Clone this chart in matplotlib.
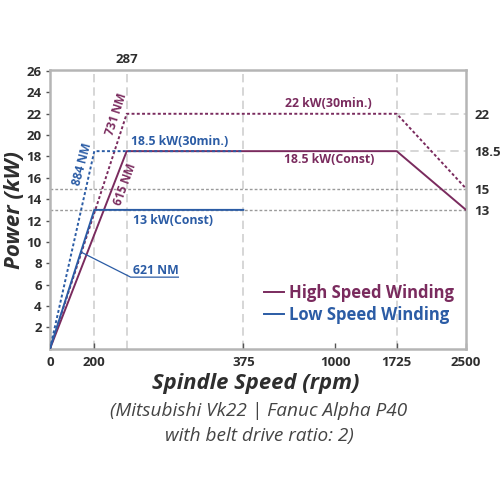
import numpy as np
import matplotlib
matplotlib.use("Agg")
import matplotlib.pyplot as plt

plt.rcParams['font.family'] = ['Open Sans', 'DejaVu Sans']

purple = "#7a2b5e"
blue = "#2b5ca5"
grey_txt = "#2e2e2e"

# spindle speed axis is piecewise (not linear)
speed_ticks = [0, 200, 287, 375, 1000, 1725, 2500]
tick_frac = [0.0, 0.1065, 0.1844, 0.4647, 0.6858, 0.8334, 1.0]

# high speed winding
high_const_x = [0, 287, 1725, 2500]
high_const_y = [0, 18.5, 18.5, 13]
high_30_x = [0, 287, 1725, 2500]
high_30_y = [0, 22, 22, 15]

# low speed winding
low_const_x = [0, 200, 375]
low_const_y = [0, 13, 13]
low_30_x = [0, 200, 375]
low_30_y = [0, 18.5, 18.5]

x_labels = [0, 200, 375, 1000, 1725, 2500]
right_ticks = [13, 15, 18.5, 22]
right_labels = ["13", "15", "18.5", "22"]


def fwd(x):
    return np.interp(x, speed_ticks, tick_frac)


def inv(y):
    return np.interp(y, tick_frac, speed_ticks)


fig = plt.figure(figsize=(5, 5), dpi=100)
ax = fig.add_axes([0.1, 0.3026, 0.832, 0.5574])
ax.set_xscale('function', functions=(fwd, inv))
ax.set_xlim(0, 2500)
ax.set_ylim(0, 26.1)

# reference lines
for v in [200, 287, 375, 1725]:
    ax.axvline(v, color="#d0d0d0", lw=1.2, ls=(0, (5, 3)), zorder=1)
for v in [13, 15]:
    ax.axhline(v, color="#9a9a9a", lw=1.0, ls=(0, (2, 1.5)), zorder=1)
for v in [18.5, 22]:
    ax.plot([1725, 2500], [v, v], color="#d0d0d0", lw=1.2, ls=(0, (5, 3)), zorder=1)

ax.plot(high_const_x, high_const_y, color=purple, lw=1.4, zorder=3, label="High Speed Winding")
ax.plot(high_30_x, high_30_y, color=purple, lw=1.4, ls=(0, (1.5, 1.2)), zorder=3)
ax.plot(low_const_x, low_const_y, color=blue, lw=1.4, zorder=4, label="Low Speed Winding")
ax.plot(low_30_x, low_30_y, color=blue, lw=1.4, ls=(0, (1.5, 1.2)), zorder=4)

# annotations
ax.text(258, 22.0, "731 NM", color=purple, fontsize=8.5, fontweight='bold',
        rotation=72, ha='center', va='center')
ax.text(146, 17.3, "884 NM", color=blue, fontsize=8.5, fontweight='bold',
        rotation=75, ha='center', va='center')
ax.text(284, 15.4, "615 NM", color=purple, fontsize=8.5, fontweight='bold',
        rotation=70, ha='center', va='center')
ax.text(290, 19.4, "18.5 kW(30min.)", color=blue, fontsize=8.8, fontweight='bold',
        ha='left', va='center')
ax.text(292, 12.0, "13 kW(Const)", color=blue, fontsize=8.8, fontweight='bold',
        ha='left', va='center')
ax.text(950, 23.0, "22 kW(30min.)", color=purple, fontsize=8.8, fontweight='bold',
        ha='center', va='center')
ax.text(960, 17.7, "18.5 kW(Const)", color=purple, fontsize=8.8, fontweight='bold',
        ha='center', va='center')
ax.text(292, 7.3, "621 NM", color=blue, fontsize=8.8, fontweight='bold',
        ha='left', va='center')
ax.plot([140, 290, 326], [9.05, 6.7, 6.7], color=blue, lw=0.9, zorder=4)

leg = ax.legend(loc='upper right', bbox_to_anchor=(1.008, 0.285), frameon=False,
                handlelength=1.2, handletextpad=0.3, labelspacing=0.2,
                prop={'weight': 'bold', 'size': 12})
for txt, col in zip(leg.get_texts(), [purple, blue]):
    txt.set_color(col)

# axes styling
for sp in ax.spines.values():
    sp.set_color("#b5b5b5")
    sp.set_linewidth(1.8)
ax.set_xticks(x_labels)
ax.set_xticklabels([str(v) for v in x_labels])
ax.xaxis.set_minor_locator(matplotlib.ticker.NullLocator())
ax.tick_params(axis='x', direction='in', length=4, width=1, color="#555555",
               labelsize=9.5, labelcolor=grey_txt, pad=5)
ax.set_yticks(range(2, 27, 2))
ax.tick_params(axis='y', direction='out', length=3, width=1, color="#555555",
               labelsize=9.5, labelcolor=grey_txt, pad=3)
for lb in ax.get_xticklabels() + ax.get_yticklabels():
    lb.set_fontweight('bold')

axr = ax.twinx()
axr.set_ylim(ax.get_ylim())
axr.set_yticks(right_ticks)
axr.set_yticklabels(right_labels, fontweight='bold', fontsize=9.5, color=grey_txt)
axr.tick_params(axis='y', length=0, pad=6)
for sp in axr.spines.values():
    sp.set_visible(False)

axt = ax.twiny()
axt.set_xscale('function', functions=(fwd, inv))
axt.set_xlim(ax.get_xlim())
axt.set_xticks([287])
axt.set_xticklabels(["287"], fontweight='bold', fontsize=9.5, color=grey_txt)
axt.xaxis.set_minor_locator(matplotlib.ticker.NullLocator())
axt.tick_params(axis='x', length=0, pad=3)
for sp in axt.spines.values():
    sp.set_visible(False)

fig.text(0.03, 1 - 210 / 500, "Power (kW)", rotation=90, fontsize=16,
         fontweight='bold', fontstyle='italic', color=grey_txt, ha='center', va='center')
fig.text(0.512, 1 - 383 / 500, "Spindle Speed (rpm)", fontsize=15.8,
         fontweight='bold', fontstyle='italic', color=grey_txt, ha='center', va='center')
fig.text(0.518, 1 - 411 / 500, "(Mitsubishi Vk22 | Fanuc Alpha P40", fontsize=13.7,
         fontstyle='italic', color="#444444", ha='center', va='center')
fig.text(0.518, 1 - 436 / 500, "with belt drive ratio: 2)", fontsize=13.7,
         fontstyle='italic', color="#444444", ha='center', va='center')

fig.savefig("out.png", dpi=100)
